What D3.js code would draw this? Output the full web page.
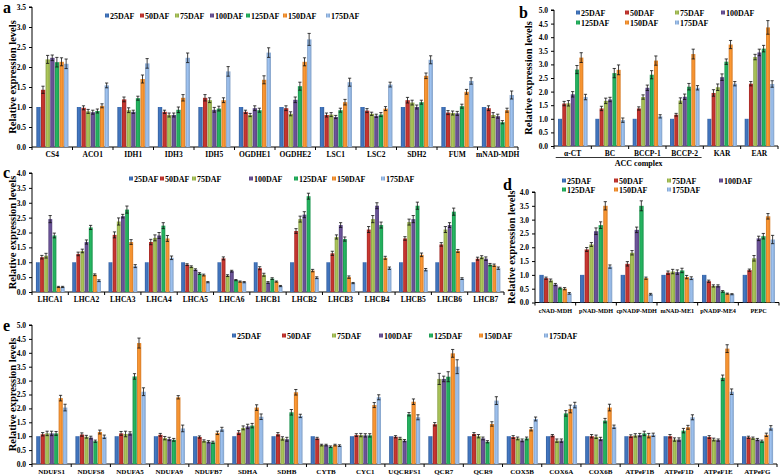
<!DOCTYPE html>
<html><head><meta charset="utf-8">
<script src="https://cdn.jsdelivr.net/npm/d3@7"></script>
<style>
body{margin:0;background:#fff}
svg{display:block}
text{font-family:"Liberation Serif","Times New Roman",serif;font-weight:bold;fill:#000}
</style>
</head><body>
<svg id="chart" width="780" height="475"></svg>
<script>
const seriesNames = ["25DAF","50DAF","75DAF","100DAF","125DAF","150DAF","175DAF"];
const seriesColors = ["#3c6cb0","#b7312c","#9bb451","#624c8c","#21a558","#ec8a2e","#8fb0da"];
const yTitle = "Relative expression levels";

// Panel a: TCA cycle
const aCategories = ["CS4","ACO1","IDH1","IDH3","IDH5","OGDHE1","OGDHE2","LSC1","LSC2","SDH2","FUM","mNAD-MDH"];
const aValues = [
  [1.0,1.43,2.19,2.23,2.12,2.13,2.08],
  [1.0,0.98,0.89,0.87,0.90,1.03,1.54],
  [1.0,1.19,0.92,0.88,1.22,1.70,2.09],
  [1.0,0.88,0.80,0.80,0.93,1.23,2.23],
  [1.0,1.23,1.17,0.93,0.96,1.17,1.89],
  [1.0,0.88,0.80,0.97,0.92,1.68,2.36],
  [1.0,0.97,0.83,1.18,1.52,2.13,2.69],
  [1.0,0.80,0.81,0.75,0.92,1.12,1.62],
  [1.0,0.91,0.83,0.78,0.81,0.96,1.56],
  [1.0,1.17,1.11,1.00,1.12,1.78,2.18],
  [1.0,0.86,0.85,0.84,1.02,1.38,1.65],
  [1.0,0.97,0.80,0.77,0.62,0.92,1.30]
];
const aErrors = [
  [0,0.09,0.10,0.07,0.12,0.10,0.12],
  [0,0.05,0.05,0.05,0.05,0.05,0.06],
  [0,0.06,0.06,0.04,0.05,0.10,0.12],
  [0,0.04,0.05,0.05,0.07,0.08,0.12],
  [0,0.08,0.06,0.06,0.06,0.06,0.12],
  [0,0.04,0.04,0.06,0.05,0.10,0.12],
  [0,0.06,0.05,0.07,0.10,0.10,0.15],
  [0,0.05,0.05,0.04,0.05,0.07,0.10],
  [0,0.05,0.04,0.04,0.05,0.05,0.06],
  [0,0.07,0.06,0.05,0.05,0.07,0.10],
  [0,0.05,0.05,0.05,0.05,0.06,0.08],
  [0,0.06,0.06,0.05,0.04,0.05,0.10]
];

// Panel b: ACC complex and fatty acid synthesis
const bCategories = ["α-CT","BC","BCCP-1","BCCP-2","KAR","EAR"];
const bValues = [
  [1.0,1.56,1.57,1.90,2.81,3.25,1.80],
  [1.0,1.38,1.66,1.71,2.68,2.80,0.95],
  [1.0,1.38,1.80,2.14,2.62,3.14,1.09],
  [1.0,1.15,1.67,1.81,2.18,3.38,2.14],
  [1.0,1.95,2.16,2.53,3.10,3.73,2.29],
  [1.0,2.29,3.27,3.44,3.58,4.36,2.28]
];
const bErrors = [
  [0,0.08,0.10,0.10,0.15,0.18,0.10],
  [0,0.08,0.10,0.08,0.17,0.18,0.08],
  [0,0.06,0.08,0.10,0.15,0.17,0.06],
  [0,0.05,0.10,0.10,0.12,0.18,0.08],
  [0,0.12,0.12,0.12,0.10,0.15,0.08],
  [0,0.08,0.10,0.12,0.12,0.25,0.12]
];
const bGroupLabel = "ACC complex";

// Panel c: light-harvesting complex
const cCategories = ["LHCA1","LHCA2","LHCA3","LHCA4","LHCA5","LHCA6","LHCB1","LHCB2","LHCB3","LHCB4","LHCB5","LHCB6","LHCB7"];
const cValues = [
  [1.0,1.17,1.22,2.45,1.90,0.17,0.17],
  [1.0,1.28,1.38,1.68,2.17,0.58,0.38],
  [1.0,1.92,2.37,2.55,2.77,1.68,0.87],
  [1.0,1.68,1.82,1.90,2.23,1.80,1.15],
  [1.0,0.92,0.85,0.75,0.62,0.57,0.33],
  [1.0,1.13,0.55,0.70,0.40,0.35,0.33],
  [1.0,0.80,0.58,0.32,0.45,0.35,0.20],
  [1.0,2.05,2.45,2.60,3.22,0.72,0.48],
  [1.0,1.30,1.85,2.25,1.78,0.50,0.30],
  [1.0,2.10,2.45,2.90,2.25,1.15,0.80],
  [1.0,1.80,2.35,2.45,2.90,1.25,0.75],
  [1.0,1.60,2.10,2.25,2.70,1.38,0.45],
  [1.0,1.12,1.17,1.12,0.92,0.90,0.80]
];
const cErrors = [
  [0,0.06,0.08,0.12,0.08,0.02,0.02],
  [0,0.06,0.06,0.07,0.07,0.03,0.03],
  [0,0.10,0.12,0.06,0.12,0.08,0.05],
  [0,0.09,0.10,0.10,0.10,0.10,0.06],
  [0,0.03,0.03,0.03,0.03,0.03,0.02],
  [0,0.05,0.03,0.03,0.02,0.02,0.02],
  [0,0.05,0.05,0.03,0.03,0.02,0.02],
  [0,0.08,0.10,0.10,0.10,0.04,0.03],
  [0,0.07,0.07,0.08,0.07,0.04,0.02],
  [0,0.10,0.12,0.10,0.10,0.05,0.04],
  [0,0.06,0.10,0.12,0.12,0.06,0.04],
  [0,0.06,0.10,0.08,0.12,0.05,0.03],
  [0,0.05,0.05,0.06,0.04,0.04,0.04]
];

// Panel d: C4-related enzymes
const dCategories = ["cNAD-MDH","pNAD-MDH","cpNADP-MDH","mNAD-ME1","pNADP-ME4","PEPC"];
const dValues = [
  [1.0,0.88,0.80,0.65,0.52,0.50,0.33],
  [1.0,1.92,2.10,2.58,2.80,3.50,1.30],
  [1.0,1.40,1.80,2.63,3.50,0.88,0.30],
  [1.0,1.08,1.12,1.10,1.16,0.92,0.88],
  [1.0,0.77,0.60,0.60,0.40,0.32,0.30],
  [1.0,1.17,1.60,2.32,2.40,3.12,2.28]
];
const dErrors = [
  [0,0.04,0.05,0.04,0.03,0.04,0.03],
  [0,0.07,0.07,0.12,0.12,0.15,0.06],
  [0,0.08,0.08,0.10,0.18,0.04,0.03],
  [0,0.06,0.08,0.08,0.08,0.06,0.05],
  [0,0.04,0.04,0.04,0.03,0.02,0.02],
  [0,0.04,0.10,0.08,0.10,0.10,0.15]
];

// Panel e: respiratory chain / ATP synthase
const eCategories = ["NDUFS1","NDUFS8","NDUFA5","NDUFA9","NDUFB7","SDHA","SDHB","CYTB","CYC1","UQCRFS1","QCR7","QCR9","COX5B","COX6A","COX6B","ATPeF1B","ATPeF1D","ATPeF1E","ATPeFG"];
const eValues = [
  [1.0,1.07,1.10,1.10,1.10,2.37,2.03],
  [1.0,1.06,0.98,0.95,0.82,1.15,0.98],
  [1.0,1.10,1.08,1.10,3.15,4.35,2.60],
  [1.0,1.05,0.93,0.90,0.87,2.40,1.28],
  [1.0,0.97,0.83,0.80,0.78,1.12,1.25],
  [1.0,1.13,1.30,1.35,1.38,2.03,1.70],
  [1.0,1.07,0.92,0.89,1.86,2.58,1.73],
  [1.0,0.92,0.68,0.68,0.62,0.68,0.66],
  [1.0,1.04,1.04,1.03,1.03,2.12,2.40],
  [1.0,0.98,0.92,0.84,1.79,2.24,1.68],
  [1.0,1.43,3.06,3.06,3.14,3.98,3.50],
  [1.0,1.08,1.00,0.92,0.80,1.44,2.28],
  [1.0,0.97,0.92,0.85,0.92,1.25,1.62],
  [1.0,1.02,0.84,0.84,1.82,1.98,2.12],
  [1.0,1.00,0.98,0.90,1.56,2.03,1.34],
  [1.0,1.00,1.03,1.04,1.10,1.02,1.05],
  [1.0,1.00,0.88,0.88,1.20,1.32,1.68],
  [1.0,0.97,0.88,0.86,3.10,4.15,2.60],
  [1.0,0.96,0.93,0.88,0.82,1.05,1.30]
];
const eErrors = [
  [0,0.06,0.08,0.08,0.07,0.10,0.12],
  [0,0.06,0.05,0.05,0.04,0.07,0.06],
  [0,0.07,0.10,0.06,0.10,0.18,0.14],
  [0,0.05,0.06,0.06,0.05,0.06,0.12],
  [0,0.04,0.04,0.04,0.04,0.06,0.07],
  [0,0.07,0.07,0.08,0.08,0.10,0.10],
  [0,0.06,0.06,0.07,0.10,0.10,0.06],
  [0,0.04,0.03,0.03,0.03,0.03,0.03],
  [0,0.05,0.06,0.06,0.06,0.09,0.09],
  [0,0.04,0.04,0.04,0.06,0.10,0.09],
  [0,0.06,0.20,0.10,0.18,0.14,0.25],
  [0,0.05,0.06,0.05,0.04,0.08,0.14],
  [0,0.05,0.05,0.05,0.05,0.06,0.07],
  [0,0.04,0.06,0.06,0.10,0.14,0.10],
  [0,0.06,0.06,0.06,0.08,0.12,0.06],
  [0,0.05,0.06,0.06,0.08,0.08,0.06],
  [0,0.06,0.06,0.06,0.08,0.07,0.09],
  [0,0.05,0.05,0.04,0.10,0.14,0.10],
  [0,0.04,0.04,0.04,0.04,0.06,0.08]
];

const svg = d3.select("#chart");
const defs = svg.append("defs");
seriesColors.forEach((c, i) => {
  const g = defs.append("linearGradient").attr("id", "grad" + i)
    .attr("x1", "0%").attr("x2", "100%").attr("y1", "0%").attr("y2", "0%");
  g.append("stop").attr("offset", "0%").attr("stop-color", d3.color(c).darker(0.35));
  g.append("stop").attr("offset", "40%").attr("stop-color", d3.color(c).brighter(0.3));
  g.append("stop").attr("offset", "100%").attr("stop-color", d3.color(c).darker(0.25));
});

function drawPanel(p) {
  const g = svg.append("g");
  const x = d3.scaleBand().domain(p.cats).range([p.x0, p.x1]).paddingInner(0.2).paddingOuter(0.1);
  const x1 = d3.scaleBand().domain(seriesNames).range([0, x.bandwidth()]);
  const y = d3.scaleLinear().domain([0, p.ymax]).range([p.yBase, p.yTop]);

  // y axis
  const yAxis = d3.axisLeft(y).tickValues(d3.range(0, p.ymax + 0.001, 0.5))
    .tickFormat(d3.format(".1f")).tickSize(3).tickPadding(3);
  const ya = g.append("g").attr("transform", `translate(${p.x0},0)`).call(yAxis);
  ya.selectAll("text").style("font-size", "7.5px");
  ya.selectAll("line,path").attr("stroke", "#000").attr("stroke-width", 1);
  ya.select(".domain").attr("d", `M-3,${p.yTop}H0V${p.yBase}`);

  // x axis: line with ticks at category boundaries
  g.append("line").attr("x1", p.x0).attr("x2", p.x1).attr("y1", p.yBase).attr("y2", p.yBase)
    .attr("stroke", "#000").attr("stroke-width", 1);
  const bounds = d3.range(p.cats.length + 1).map(i => p.x0 + (p.x1 - p.x0) * i / p.cats.length);
  g.selectAll(".xt").data(bounds).join("line")
    .attr("x1", d => d).attr("x2", d => d).attr("y1", p.yBase).attr("y2", p.yBase + 3)
    .attr("stroke", "#000").attr("stroke-width", 1);
  g.selectAll(".xl").data(p.cats).join("text")
    .attr("x", d => x(d) + x.bandwidth() / 2).attr("y", p.yBase + 10)
    .attr("text-anchor", "middle").style("font-size", p.catFont || "7.5px").text(d => d);

  // bars
  const cg = g.selectAll(".cat").data(p.cats.map((c, i) => ({c, vals: p.values[i], errs: p.errors[i]})))
    .join("g").attr("transform", d => `translate(${x(d.c)},0)`);
  cg.selectAll("rect").data(d => d.vals.map((v, j) => ({v, j, e: d.errs[j]})))
    .join("rect")
    .attr("x", d => x1(seriesNames[d.j]) + 0.3)
    .attr("width", x1.bandwidth() - 0.3)
    .attr("y", d => y(d.v)).attr("height", d => y(0) - y(d.v))
    .attr("fill", d => `url(#grad${d.j})`);
  const eb = cg.selectAll(".err").data(d => d.vals.map((v, j) => ({v, j, e: d.errs[j]})).filter(d => d.e > 0))
    .join("g").attr("class", "err");
  eb.append("line")
    .attr("x1", d => x1(seriesNames[d.j]) + x1.bandwidth() / 2)
    .attr("x2", d => x1(seriesNames[d.j]) + x1.bandwidth() / 2)
    .attr("y1", d => y(d.v - d.e)).attr("y2", d => y(d.v + d.e))
    .attr("stroke", "#111").attr("stroke-width", 0.8);
  [1, -1].forEach(s => {
    eb.append("line")
      .attr("x1", d => x1(seriesNames[d.j]) + x1.bandwidth() / 2 - 1.6)
      .attr("x2", d => x1(seriesNames[d.j]) + x1.bandwidth() / 2 + 1.6)
      .attr("y1", d => y(d.v + s * d.e)).attr("y2", d => y(d.v + s * d.e))
      .attr("stroke", "#111").attr("stroke-width", 0.8);
  });

  // y title
  g.append("text").attr("transform", `translate(${p.titleX},${(p.yTop + p.yBase) / 2}) rotate(-90)`)
    .attr("text-anchor", "middle").attr("dy", "0.35em").style("font-size", "10.5px").text(yTitle);
  // panel letter
  g.append("text").attr("x", p.letterX).attr("y", p.letterY).style("font-size", "16px").text(p.letter);

  // legend
  p.legend.forEach((pos, i) => {
    g.append("rect").attr("x", pos[0]).attr("y", pos[1] - 2.5).attr("width", 4).attr("height", 4)
      .attr("fill", `url(#grad${i})`);
    g.append("text").attr("x", pos[0] + 5).attr("y", pos[1]).attr("dy", "0.35em")
      .style("font-size", "8px").text(seriesNames[i]);
  });
  return {x, y};
}

drawPanel({cats: aCategories, values: aValues, errors: aErrors, x0: 32, x1: 518, yTop: 7, yBase: 147, ymax: 3.5,
  titleX: 12, letter: "a", letterX: 3, letterY: 13,
  legend: [[105,16],[140,16],[175,16],[210,16],[246,16],[283,16],[326,16]]});

const pb = drawPanel({cats: bCategories, values: bValues, errors: bErrors, x0: 554, x1: 778, yTop: 10, yBase: 146, ymax: 5,
  titleX: 528, letter: "b", letterX: 519, letterY: 18,
  legend: [[576,13],[625,13],[675,13],[721,13],[576,23],[625,23],[675,23]]});
// ACC complex group bracket
{
  const xs = pb.x;
  const gx0 = xs(bCategories[0]) - 2, gx1 = xs(bCategories[3]) + xs.bandwidth() + 2;
  svg.append("line").attr("x1", gx0).attr("x2", gx1).attr("y1", 157.5).attr("y2", 157.5)
    .attr("stroke", "#000").attr("stroke-width", 0.8);
  svg.append("text").attr("x", (gx0 + gx1) / 2 + 10).attr("y", 166).attr("text-anchor", "middle")
    .style("font-size", "8px").text(bGroupLabel);
}

drawPanel({cats: cCategories, values: cValues, errors: cErrors, x0: 32, x1: 504, yTop: 173, yBase: 292, ymax: 4,
  titleX: 12, letter: "c", letterX: 3, letterY: 178,
  legend: [[129,179],[160,179],[192,179],[249,179],[294,179],[332,179],[381,179]]});

drawPanel({cats: dCategories, values: dValues, errors: dErrors, x0: 535, x1: 779, yTop: 192, yBase: 302.5, ymax: 4,
  titleX: 511, letter: "d", letterX: 503, letterY: 190, catFont: "6.2px",
  legend: [[562,181],[614,181],[667,181],[719,181],[562,190],[614,190],[667,190]]});

drawPanel({cats: eCategories, values: eValues, errors: eErrors, x0: 32, x1: 777, yTop: 325, yBase: 464, ymax: 5,
  titleX: 12, letter: "e", letterX: 3, letterY: 331, catFont: "7px",
  legend: [[232,336],[282,336],[332,336],[379,336],[429,336],[479,336],[544,336]]});
</script>
</body></html>
